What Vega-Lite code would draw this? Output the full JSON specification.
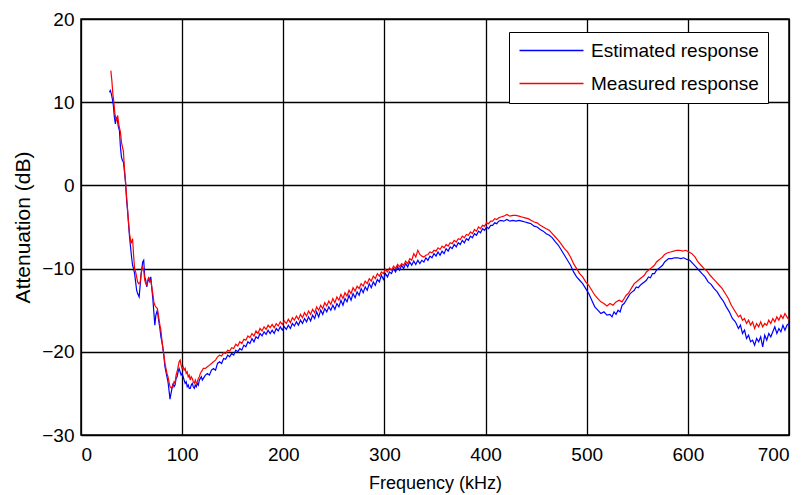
{
"$schema": "https://vega.github.io/schema/vega-lite/v6.json",
"width": 708, "height": 416,
"autosize": {"type": "none"},
"padding": {"left": 81, "top": 19, "right": 19, "bottom": 60},
"background": "white",
"config": {
 "font": "Liberation Sans",
 "view": {"stroke": "black", "strokeWidth": 1.5},
 "axis": {"grid": true, "gridColor": "black", "gridOpacity": 1, "gridWidth": 1.3, "domain": false, "ticks": false,
  "labelFont": "Liberation Sans", "labelFontSize": 19, "labelColor": "black",
  "titleFont": "Liberation Sans", "titleFontSize": 18, "titleColor": "black", "titleFontWeight": "normal"}
},
"datasets": {
"est": [
{"f":28,"a":11.2},{"f":29,"a":11.4},{"f":30,"a":11.0},{"f":31,"a":10.4},{"f":32,"a":9.6},{"f":33,"a":8.2},{"f":34,"a":7.4},{"f":35,"a":8.2},{"f":36,"a":7.8},{"f":37,"a":7.0},{"f":38,"a":6.6},{"f":39,"a":4.6},{"f":40,"a":3.4},{"f":41,"a":3.0},{"f":42,"a":2.8},{"f":43,"a":1.6},{"f":44,"a":0.4},{"f":45,"a":-1.6},{"f":46,"a":-3.0},{"f":47,"a":-4.6},{"f":48,"a":-6.2},{"f":49,"a":-7.4},{"f":50,"a":-8.6},{"f":51,"a":-9.6},{"f":52,"a":-10.0},{"f":53,"a":-10.6},{"f":54,"a":-11.6},{"f":55,"a":-12.6},{"f":56,"a":-13.0},{"f":57.5,"a":-13.4},{"f":58.5,"a":-12.0},{"f":59.5,"a":-10.6},{"f":61,"a":-9.2},{"f":62,"a":-9.0},{"f":63,"a":-11.0},{"f":64,"a":-11.4},{"f":65,"a":-12.2},{"f":66,"a":-11.6},{"f":67,"a":-11.2},{"f":68,"a":-11.6},{"f":69,"a":-11.0},{"f":70,"a":-12.4},{"f":71,"a":-13.6},{"f":72,"a":-15.2},{"f":73,"a":-16.8},{"f":74,"a":-15.6},{"f":75.5,"a":-15.0},{"f":76.5,"a":-16.0},{"f":78,"a":-17.2},{"f":79,"a":-18.2},{"f":80,"a":-18.8},{"f":81.5,"a":-20.0},{"f":83,"a":-21.8},{"f":84,"a":-22.4},{"f":85,"a":-23.0},{"f":86,"a":-23.6},{"f":87,"a":-24.6},{"f":88,"a":-25.7},{"f":89,"a":-25.0},{"f":90,"a":-24.4},{"f":91,"a":-23.8},{"f":92,"a":-24.2},{"f":93,"a":-24.0},{"f":94,"a":-23.2},{"f":95,"a":-23.0},{"f":96,"a":-22.4},{"f":97,"a":-22.0},{"f":98,"a":-22.4},{"f":99,"a":-22.8},{"f":100,"a":-22.6},{"f":101,"a":-23.0},{"f":102,"a":-23.4},{"f":103,"a":-23.8},{"f":104,"a":-23.6},{"f":105,"a":-24.2},{"f":106,"a":-24.0},{"f":107,"a":-24.4},{"f":108,"a":-24.4},{"f":109,"a":-24.0},{"f":110,"a":-23.8},{"f":111,"a":-24.2},{"f":112,"a":-24.4},{"f":113,"a":-24.0},{"f":114,"a":-24.2},{"f":115,"a":-23.8},{"f":116,"a":-24.0},{"f":117,"a":-23.4},{"f":118,"a":-23.2},{"f":119,"a":-23.0},{"f":120,"a":-23.4},{"f":121,"a":-23.2},{"f":123,"a":-22.8},{"f":125,"a":-22.6},{"f":127,"a":-22.8},{"f":129,"a":-22.2},{"f":131,"a":-22.0},{"f":133,"a":-22.2},{"f":135,"a":-21.4},{"f":137,"a":-21.2},{"f":139,"a":-21.4},{"f":141,"a":-20.8},{"f":143,"a":-20.9},{"f":145,"a":-20.4},{"f":147,"a":-20.6},{"f":149,"a":-20.2},{"f":151,"a":-20.4},{"f":153,"a":-19.8},{"f":155,"a":-20.0},{"f":157,"a":-19.6},{"f":159,"a":-19.8},{"f":161,"a":-19.2},{"f":163,"a":-19.4},{"f":165,"a":-18.8},{"f":167,"a":-19.0},{"f":169,"a":-18.4},{"f":171,"a":-18.8},{"f":173,"a":-18.2},{"f":175,"a":-18.4},{"f":177,"a":-17.8},{"f":179,"a":-18.1},{"f":181,"a":-17.6},{"f":183,"a":-17.9},{"f":185,"a":-17.4},{"f":187,"a":-17.8},{"f":189,"a":-17.4},{"f":191,"a":-17.8},{"f":193,"a":-17.2},{"f":195,"a":-17.5},{"f":197,"a":-17.0},{"f":199,"a":-17.4},{"f":201,"a":-17.0},{"f":203,"a":-17.3},{"f":205,"a":-16.8},{"f":207,"a":-17.2},{"f":209,"a":-16.6},{"f":211,"a":-16.9},{"f":213,"a":-16.4},{"f":215,"a":-16.8},{"f":217,"a":-16.2},{"f":219,"a":-16.6},{"f":221,"a":-16.0},{"f":223,"a":-16.4},{"f":225,"a":-15.8},{"f":227,"a":-16.3},{"f":229,"a":-15.6},{"f":231,"a":-16.0},{"f":233,"a":-15.2},{"f":235,"a":-15.8},{"f":237,"a":-15.0},{"f":239,"a":-15.5},{"f":241,"a":-14.8},{"f":243,"a":-15.2},{"f":245,"a":-14.6},{"f":247,"a":-15.0},{"f":249,"a":-14.4},{"f":251,"a":-14.9},{"f":253,"a":-14.2},{"f":255,"a":-14.6},{"f":257,"a":-13.8},{"f":259,"a":-14.4},{"f":261,"a":-13.6},{"f":263,"a":-14.0},{"f":265,"a":-13.2},{"f":267,"a":-13.8},{"f":269,"a":-13.0},{"f":271,"a":-13.5},{"f":273,"a":-12.8},{"f":275,"a":-13.2},{"f":277,"a":-12.4},{"f":279,"a":-12.9},{"f":281,"a":-12.2},{"f":283,"a":-12.6},{"f":285,"a":-11.8},{"f":287,"a":-12.3},{"f":289,"a":-11.6},{"f":291,"a":-12.0},{"f":293,"a":-11.3},{"f":295,"a":-11.6},{"f":297,"a":-10.8},{"f":299,"a":-11.3},{"f":301,"a":-10.6},{"f":303,"a":-11.0},{"f":305,"a":-10.4},{"f":307,"a":-10.6},{"f":309,"a":-10.0},{"f":311,"a":-10.4},{"f":313,"a":-9.8},{"f":315,"a":-10.2},{"f":317,"a":-9.6},{"f":319,"a":-10.0},{"f":321,"a":-9.4},{"f":323,"a":-9.8},{"f":325,"a":-9.2},{"f":327,"a":-9.6},{"f":329,"a":-9.1},{"f":331,"a":-9.5},{"f":333,"a":-9.0},{"f":335,"a":-9.4},{"f":337,"a":-9.0},{"f":339,"a":-9.2},{"f":341,"a":-8.7},{"f":343,"a":-9.0},{"f":345,"a":-8.5},{"f":347,"a":-8.7},{"f":349,"a":-8.2},{"f":351,"a":-8.5},{"f":353,"a":-8.0},{"f":355,"a":-8.4},{"f":357,"a":-7.9},{"f":359,"a":-8.2},{"f":361,"a":-7.6},{"f":363,"a":-7.9},{"f":365,"a":-7.4},{"f":367,"a":-7.6},{"f":369,"a":-7.1},{"f":371,"a":-7.4},{"f":373,"a":-6.9},{"f":375,"a":-7.1},{"f":377,"a":-6.6},{"f":379,"a":-6.9},{"f":381,"a":-6.4},{"f":383,"a":-6.6},{"f":385,"a":-6.1},{"f":387,"a":-6.3},{"f":389,"a":-5.8},{"f":391,"a":-6.0},{"f":393,"a":-5.5},{"f":395,"a":-5.7},{"f":397,"a":-5.2},{"f":399,"a":-5.4},{"f":401,"a":-5.0},{"f":403,"a":-5.2},{"f":405,"a":-4.8},{"f":407,"a":-4.8},{"f":409,"a":-4.5},{"f":411,"a":-4.6},{"f":413,"a":-4.3},{"f":415,"a":-4.2},{"f":418,"a":-4.3},{"f":421,"a":-4.1},{"f":424,"a":-4.3},{"f":427,"a":-4.2},{"f":430,"a":-4.3},{"f":433,"a":-4.2},{"f":436,"a":-4.3},{"f":439,"a":-4.4},{"f":442,"a":-4.5},{"f":445,"a":-4.6},{"f":448,"a":-4.9},{"f":451,"a":-5.0},{"f":454,"a":-5.3},{"f":457,"a":-5.5},{"f":460,"a":-5.8},{"f":463,"a":-6.0},{"f":466,"a":-6.3},{"f":469,"a":-6.8},{"f":472,"a":-7.2},{"f":475,"a":-7.8},{"f":478,"a":-8.4},{"f":481,"a":-9.0},{"f":484,"a":-9.6},{"f":487,"a":-10.4},{"f":490,"a":-11.0},{"f":493,"a":-11.4},{"f":496,"a":-11.8},{"f":499,"a":-12.4},{"f":502,"a":-13.0},{"f":505,"a":-13.8},{"f":508,"a":-14.6},{"f":511,"a":-15.0},{"f":514,"a":-15.4},{"f":517,"a":-15.2},{"f":520,"a":-15.6},{"f":523,"a":-15.5},{"f":525,"a":-15.8},{"f":527,"a":-15.2},{"f":529,"a":-15.5},{"f":531,"a":-15.0},{"f":533,"a":-15.2},{"f":535,"a":-14.4},{"f":537,"a":-14.2},{"f":539,"a":-13.8},{"f":541,"a":-13.4},{"f":543,"a":-13.0},{"f":545,"a":-12.8},{"f":547,"a":-12.6},{"f":549,"a":-12.2},{"f":551,"a":-12.3},{"f":553,"a":-12.0},{"f":555,"a":-11.8},{"f":557,"a":-11.6},{"f":559,"a":-11.4},{"f":561,"a":-11.0},{"f":563,"a":-11.1},{"f":565,"a":-10.6},{"f":567,"a":-10.6},{"f":569,"a":-10.2},{"f":571,"a":-10.0},{"f":573,"a":-9.8},{"f":575,"a":-9.6},{"f":577,"a":-9.2},{"f":579,"a":-9.0},{"f":581,"a":-8.8},{"f":584,"a":-8.8},{"f":587,"a":-8.7},{"f":590,"a":-8.7},{"f":593,"a":-8.8},{"f":596,"a":-8.7},{"f":599,"a":-8.9},{"f":602,"a":-9.0},{"f":605,"a":-9.4},{"f":608,"a":-9.8},{"f":611,"a":-10.2},{"f":614,"a":-10.6},{"f":617,"a":-11.0},{"f":620,"a":-11.6},{"f":623,"a":-11.9},{"f":626,"a":-12.4},{"f":629,"a":-12.8},{"f":632,"a":-13.4},{"f":635,"a":-13.9},{"f":638,"a":-14.6},{"f":641,"a":-15.2},{"f":644,"a":-16.0},{"f":647,"a":-16.4},{"f":650,"a":-17.2},{"f":652,"a":-16.8},{"f":654,"a":-17.8},{"f":656,"a":-17.4},{"f":658,"a":-18.4},{"f":660,"a":-18.0},{"f":662,"a":-18.8},{"f":664,"a":-18.6},{"f":666,"a":-19.2},{"f":668,"a":-18.4},{"f":670,"a":-18.8},{"f":672,"a":-18.2},{"f":674,"a":-19.4},{"f":676,"a":-18.0},{"f":678,"a":-18.6},{"f":680,"a":-17.8},{"f":682,"a":-18.2},{"f":684,"a":-17.6},{"f":686,"a":-17.0},{"f":688,"a":-17.8},{"f":690,"a":-17.2},{"f":692,"a":-17.6},{"f":694,"a":-16.8},{"f":696,"a":-17.4},{"f":698,"a":-16.8},{"f":700,"a":-16.6}
],
"meas": [
{"f":29.5,"a":13.8},{"f":30.5,"a":12.6},{"f":31.5,"a":11.0},{"f":32.5,"a":10.0},{"f":33.5,"a":8.6},{"f":35,"a":7.8},{"f":36.3,"a":8.4},{"f":37.5,"a":7.2},{"f":39,"a":6.4},{"f":40,"a":5.2},{"f":41.9,"a":4.1},{"f":43,"a":2.0},{"f":44,"a":0.5},{"f":45,"a":-1.2},{"f":46,"a":-2.8},{"f":47,"a":-4.4},{"f":48,"a":-5.8},{"f":49.5,"a":-7.0},{"f":51,"a":-6.4},{"f":52,"a":-8.4},{"f":53,"a":-10.0},{"f":54,"a":-10.4},{"f":55,"a":-11.0},{"f":56,"a":-11.6},{"f":57,"a":-11.8},{"f":58.4,"a":-11.7},{"f":59.5,"a":-10.6},{"f":60.6,"a":-9.8},{"f":62,"a":-10.2},{"f":63,"a":-11.4},{"f":64,"a":-11.8},{"f":65,"a":-12.0},{"f":66,"a":-11.4},{"f":67,"a":-11.0},{"f":68,"a":-11.6},{"f":69,"a":-11.4},{"f":70,"a":-12.2},{"f":71,"a":-13.0},{"f":72,"a":-14.0},{"f":73,"a":-14.4},{"f":74,"a":-14.6},{"f":75.5,"a":-14.8},{"f":76.5,"a":-15.6},{"f":78,"a":-16.8},{"f":79,"a":-17.4},{"f":80,"a":-18.6},{"f":81.5,"a":-20.0},{"f":83,"a":-21.4},{"f":84,"a":-22.0},{"f":85,"a":-22.6},{"f":86,"a":-23.0},{"f":87,"a":-23.6},{"f":88,"a":-24.2},{"f":89.5,"a":-24.4},{"f":91,"a":-24.0},{"f":92,"a":-23.6},{"f":93,"a":-23.8},{"f":94,"a":-22.8},{"f":95,"a":-22.4},{"f":96,"a":-21.8},{"f":97,"a":-21.2},{"f":98,"a":-21.0},{"f":99,"a":-21.6},{"f":100,"a":-22.0},{"f":101,"a":-21.8},{"f":102,"a":-22.2},{"f":103,"a":-22.0},{"f":104,"a":-22.6},{"f":105,"a":-22.4},{"f":106,"a":-23.0},{"f":107,"a":-22.8},{"f":108,"a":-23.4},{"f":109,"a":-23.0},{"f":110,"a":-23.2},{"f":111,"a":-23.6},{"f":112,"a":-23.8},{"f":113,"a":-23.4},{"f":114,"a":-23.8},{"f":115,"a":-23.6},{"f":116,"a":-23.2},{"f":117,"a":-23.0},{"f":118,"a":-22.6},{"f":119,"a":-22.4},{"f":120,"a":-22.2},{"f":121,"a":-22.0},{"f":123,"a":-22.0},{"f":125,"a":-21.8},{"f":127,"a":-21.6},{"f":129,"a":-21.4},{"f":131,"a":-21.2},{"f":133,"a":-21.0},{"f":135,"a":-20.6},{"f":137,"a":-20.4},{"f":139,"a":-20.5},{"f":141,"a":-20.1},{"f":143,"a":-20.2},{"f":145,"a":-19.8},{"f":147,"a":-19.9},{"f":149,"a":-19.5},{"f":151,"a":-19.6},{"f":153,"a":-19.1},{"f":155,"a":-19.3},{"f":157,"a":-18.8},{"f":159,"a":-19.0},{"f":161,"a":-18.5},{"f":163,"a":-18.6},{"f":165,"a":-18.1},{"f":167,"a":-18.3},{"f":169,"a":-17.8},{"f":171,"a":-18.1},{"f":173,"a":-17.5},{"f":175,"a":-17.8},{"f":177,"a":-17.2},{"f":179,"a":-17.5},{"f":181,"a":-17.0},{"f":183,"a":-17.3},{"f":185,"a":-16.8},{"f":187,"a":-17.1},{"f":189,"a":-16.7},{"f":191,"a":-17.1},{"f":193,"a":-16.6},{"f":195,"a":-16.9},{"f":197,"a":-16.4},{"f":199,"a":-16.7},{"f":201,"a":-16.3},{"f":203,"a":-16.6},{"f":205,"a":-16.1},{"f":207,"a":-16.5},{"f":209,"a":-15.9},{"f":211,"a":-16.2},{"f":213,"a":-15.7},{"f":215,"a":-16.1},{"f":217,"a":-15.5},{"f":219,"a":-15.9},{"f":221,"a":-15.3},{"f":223,"a":-15.7},{"f":225,"a":-15.1},{"f":227,"a":-15.5},{"f":229,"a":-14.9},{"f":231,"a":-15.3},{"f":233,"a":-14.6},{"f":235,"a":-15.0},{"f":237,"a":-14.4},{"f":239,"a":-14.8},{"f":241,"a":-14.1},{"f":243,"a":-14.5},{"f":245,"a":-13.9},{"f":247,"a":-14.3},{"f":249,"a":-13.6},{"f":251,"a":-14.1},{"f":253,"a":-13.4},{"f":255,"a":-13.8},{"f":257,"a":-13.1},{"f":259,"a":-13.6},{"f":261,"a":-12.9},{"f":263,"a":-13.3},{"f":265,"a":-12.6},{"f":267,"a":-13.0},{"f":269,"a":-12.3},{"f":271,"a":-12.7},{"f":273,"a":-12.1},{"f":275,"a":-12.4},{"f":277,"a":-11.8},{"f":279,"a":-12.1},{"f":281,"a":-11.5},{"f":283,"a":-11.8},{"f":285,"a":-11.2},{"f":287,"a":-11.5},{"f":289,"a":-10.9},{"f":291,"a":-11.2},{"f":293,"a":-10.6},{"f":295,"a":-10.9},{"f":297,"a":-10.4},{"f":299,"a":-10.6},{"f":301,"a":-10.1},{"f":303,"a":-10.4},{"f":305,"a":-9.9},{"f":307,"a":-10.2},{"f":309,"a":-9.7},{"f":311,"a":-10.0},{"f":313,"a":-9.5},{"f":315,"a":-9.8},{"f":317,"a":-9.4},{"f":319,"a":-9.6},{"f":321,"a":-9.1},{"f":323,"a":-9.4},{"f":325,"a":-8.8},{"f":327,"a":-9.0},{"f":329,"a":-8.2},{"f":331,"a":-8.6},{"f":333,"a":-7.8},{"f":335,"a":-8.3},{"f":337,"a":-8.5},{"f":339,"a":-8.6},{"f":341,"a":-8.4},{"f":343,"a":-8.3},{"f":345,"a":-8.0},{"f":347,"a":-8.1},{"f":349,"a":-7.8},{"f":351,"a":-7.9},{"f":353,"a":-7.5},{"f":355,"a":-7.7},{"f":357,"a":-7.3},{"f":359,"a":-7.5},{"f":361,"a":-7.1},{"f":363,"a":-7.3},{"f":365,"a":-6.9},{"f":367,"a":-7.0},{"f":369,"a":-6.6},{"f":371,"a":-6.8},{"f":373,"a":-6.4},{"f":375,"a":-6.5},{"f":377,"a":-6.1},{"f":379,"a":-6.3},{"f":381,"a":-5.9},{"f":383,"a":-6.0},{"f":385,"a":-5.6},{"f":387,"a":-5.8},{"f":389,"a":-5.3},{"f":391,"a":-5.5},{"f":393,"a":-5.0},{"f":395,"a":-5.2},{"f":397,"a":-4.8},{"f":399,"a":-4.9},{"f":401,"a":-4.5},{"f":403,"a":-4.6},{"f":405,"a":-4.3},{"f":407,"a":-4.3},{"f":409,"a":-4.0},{"f":411,"a":-4.1},{"f":413,"a":-3.9},{"f":415,"a":-3.8},{"f":418,"a":-3.7},{"f":421,"a":-3.5},{"f":424,"a":-3.7},{"f":427,"a":-3.6},{"f":430,"a":-3.6},{"f":433,"a":-3.7},{"f":436,"a":-3.8},{"f":439,"a":-3.9},{"f":442,"a":-4.0},{"f":445,"a":-4.2},{"f":448,"a":-4.4},{"f":451,"a":-4.5},{"f":454,"a":-4.8},{"f":457,"a":-5.0},{"f":460,"a":-5.2},{"f":463,"a":-5.4},{"f":466,"a":-5.8},{"f":469,"a":-6.2},{"f":472,"a":-6.6},{"f":475,"a":-7.1},{"f":478,"a":-7.6},{"f":481,"a":-8.0},{"f":484,"a":-8.6},{"f":487,"a":-9.4},{"f":490,"a":-10.0},{"f":493,"a":-10.6},{"f":496,"a":-11.0},{"f":499,"a":-11.6},{"f":502,"a":-12.0},{"f":505,"a":-12.6},{"f":508,"a":-13.2},{"f":511,"a":-13.6},{"f":514,"a":-14.0},{"f":517,"a":-14.2},{"f":520,"a":-14.5},{"f":523,"a":-14.2},{"f":526,"a":-14.4},{"f":529,"a":-14.0},{"f":532,"a":-13.8},{"f":535,"a":-14.0},{"f":537,"a":-13.6},{"f":539,"a":-13.2},{"f":541,"a":-13.0},{"f":543,"a":-12.6},{"f":545,"a":-12.2},{"f":547,"a":-11.8},{"f":549,"a":-11.6},{"f":551,"a":-11.4},{"f":553,"a":-11.2},{"f":555,"a":-11.0},{"f":557,"a":-10.8},{"f":559,"a":-10.4},{"f":561,"a":-10.2},{"f":563,"a":-10.0},{"f":565,"a":-9.8},{"f":567,"a":-9.6},{"f":569,"a":-9.2},{"f":571,"a":-9.0},{"f":573,"a":-8.8},{"f":575,"a":-8.6},{"f":577,"a":-8.3},{"f":580,"a":-8.1},{"f":583,"a":-8.0},{"f":586,"a":-7.9},{"f":589,"a":-7.8},{"f":592,"a":-7.8},{"f":595,"a":-7.9},{"f":598,"a":-7.8},{"f":601,"a":-8.0},{"f":604,"a":-8.2},{"f":607,"a":-8.6},{"f":610,"a":-9.2},{"f":613,"a":-9.6},{"f":616,"a":-10.0},{"f":619,"a":-10.3},{"f":622,"a":-10.8},{"f":625,"a":-11.2},{"f":628,"a":-11.6},{"f":631,"a":-12.0},{"f":634,"a":-12.4},{"f":637,"a":-13.0},{"f":640,"a":-13.6},{"f":643,"a":-14.4},{"f":646,"a":-15.0},{"f":648,"a":-15.4},{"f":650,"a":-15.8},{"f":652,"a":-15.6},{"f":654,"a":-16.2},{"f":656,"a":-16.0},{"f":658,"a":-16.6},{"f":660,"a":-16.2},{"f":662,"a":-16.8},{"f":664,"a":-16.4},{"f":666,"a":-17.2},{"f":668,"a":-16.6},{"f":670,"a":-17.0},{"f":672,"a":-16.4},{"f":674,"a":-17.0},{"f":676,"a":-16.6},{"f":678,"a":-16.8},{"f":680,"a":-16.2},{"f":682,"a":-16.6},{"f":684,"a":-16.0},{"f":686,"a":-16.4},{"f":688,"a":-15.8},{"f":690,"a":-16.2},{"f":692,"a":-15.6},{"f":694,"a":-16.0},{"f":696,"a":-15.4},{"f":698,"a":-15.8},{"f":700,"a":-16.2}
]
},
"encoding": {
 "x": {"field": "f", "type": "quantitative", "scale": {"domain": [0, 700], "nice": false},
  "axis": {"values": [0,100,200,300,400,500,600,700], "title": "Frequency (kHz)", "labelPadding": 10, "titlePadding": 10}},
 "y": {"field": "a", "type": "quantitative", "scale": {"domain": [-30, 20], "nice": false},
  "axis": {"values": [-30,-20,-10,0,10,20], "title": "Attenuation (dB)", "labelPadding": 7, "titlePadding": 8, "titleFontSize": 21}},
 "color": {"type": "nominal",
  "scale": {"domain": ["Estimated response", "Measured response"], "range": ["#0000ff", "#ff0000"]},
  "legend": {"orient": "none", "legendX": 428, "legendY": 13, "title": null, "symbolType": "M-1,0H7", "symbolSize": 256,
   "symbolStrokeWidth": 1.5, "labelFontSize": 19, "labelFont": "Liberation Sans", "labelColor": "black", "labelLimit": 0,
   "fillColor": "white", "strokeColor": "black", "padding": 9, "rowPadding": 13, "labelOffset": 54}}
},
"layer": [
 {"data": {"name": "est"}, "mark": {"type": "line", "strokeWidth": 1.2, "clip": true},
  "encoding": {"color": {"datum": "Estimated response"}}},
 {"data": {"name": "meas"}, "mark": {"type": "line", "strokeWidth": 1.2, "clip": true},
  "encoding": {"color": {"datum": "Measured response"}}}
]
}
